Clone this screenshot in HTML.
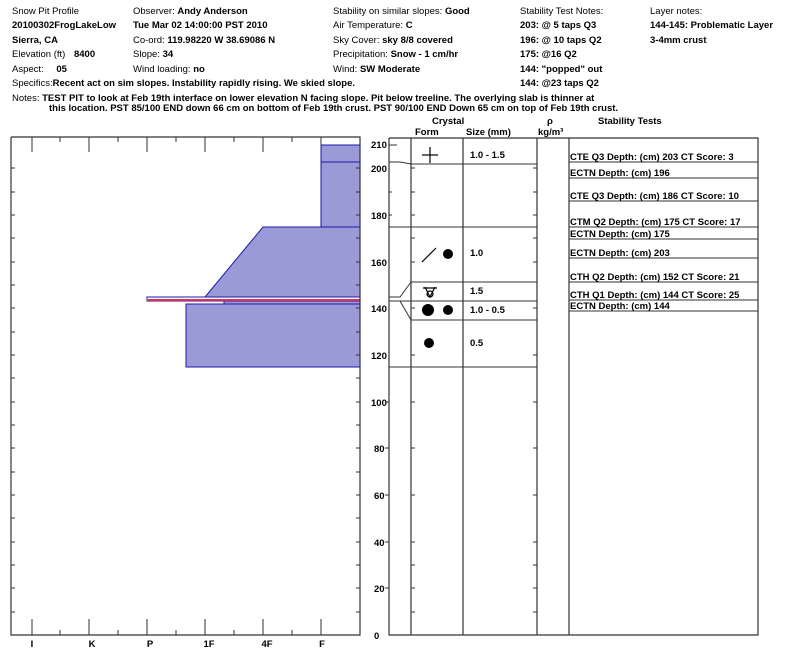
<!DOCTYPE html>
<html><head><meta charset="utf-8"><style>
body{margin:0;width:800px;height:665px;background:#fff;overflow:hidden}
svg{position:absolute;left:0;top:0}
text{font-family:"Liberation Sans",Arial,sans-serif;font-size:9.5px;fill:#000}
.b{font-weight:bold}
</style></head><body>
<svg width="800" height="665" viewBox="0 0 800 665">
<g>
<text x="12" y="14">Snow Pit Profile</text>
<text x="12" y="28" class="b">20100302FrogLakeLow</text>
<text x="12" y="43" class="b">Sierra, CA</text>
<text x="12" y="57">Elevation (ft) <tspan class="b" dx="6">8400</tspan></text>
<text x="12" y="72">Aspect: <tspan class="b" dx="10">05</tspan></text>
<text x="12" y="86">Specifics:<tspan class="b">Recent act on sim slopes. Instability rapidly rising. We skied slope.</tspan></text>
<text x="12" y="101">Notes:  <tspan class="b">TEST PIT to look at Feb 19th interface on lower elevation N facing slope. Pit below treeline. The overlying slab is thinner at</tspan></text>
<text x="49" y="111" class="b">this location. PST 85/100 END down 66 cm on bottom of Feb 19th crust. PST 90/100 END Down 65 cm on top of Feb 19th crust.</text>
<text x="133" y="14">Observer: <tspan class="b">Andy Anderson</tspan></text>
<text x="133" y="28" class="b">Tue Mar 02 14:00:00 PST 2010</text>
<text x="133" y="43">Co-ord: <tspan class="b">119.98220 W 38.69086 N</tspan></text>
<text x="133" y="57">Slope: <tspan class="b">34</tspan></text>
<text x="133" y="72">Wind loading: <tspan class="b">no</tspan></text>
<text x="333" y="14">Stability on similar slopes: <tspan class="b">Good</tspan></text>
<text x="333" y="28">Air Temperature:  <tspan class="b">C</tspan></text>
<text x="333" y="43">Sky Cover: <tspan class="b">sky 8/8 covered</tspan></text>
<text x="333" y="57">Precipitation: <tspan class="b">Snow - 1 cm/hr</tspan></text>
<text x="333" y="72">Wind: <tspan class="b">SW Moderate</tspan></text>
<text x="520" y="14">Stability Test Notes:</text>
<text x="520" y="28" class="b">203: @ 5 taps Q3</text>
<text x="520" y="43" class="b">196: @ 10 taps Q2</text>
<text x="520" y="57" class="b">175: @16 Q2</text>
<text x="520" y="72" class="b">144: "popped" out</text>
<text x="520" y="86" class="b">144: @23 taps Q2</text>
<text x="650" y="14">Layer notes:</text>
<text x="650" y="28" class="b">144-145: Problematic Layer</text>
<text x="650" y="43" class="b">3-4mm crust</text>
</g>
<!-- left chart -->
<g fill="#9a9ad6" stroke="#1a1aaa" stroke-width="1">
<rect x="321" y="145" width="39" height="82"/>
<line x1="321" y1="162" x2="360" y2="162"/>
<polygon points="263,227 360,227 360,297 205,297"/>
<rect x="224" y="301" width="136" height="3"/>
<rect x="186" y="304" width="174" height="63"/>
<rect x="147" y="297" width="213" height="4" fill="#fff"/>
</g>
<rect x="148" y="299" width="212" height="2" fill="#e0304a"/>
<g stroke="#333" stroke-width="1.2" fill="none">
<polyline points="11,137 360,137 360,635 11,635 11,137" />
</g>
<g stroke="#333" stroke-width="1">
<line x1="32" y1="137" x2="32" y2="152"/><line x1="89" y1="137" x2="89" y2="152"/><line x1="147" y1="137" x2="147" y2="152"/><line x1="205" y1="137" x2="205" y2="152"/><line x1="263" y1="137" x2="263" y2="152"/><line x1="321" y1="137" x2="321" y2="145"/>
<line x1="60" y1="137" x2="60" y2="142"/><line x1="118" y1="137" x2="118" y2="142"/><line x1="176" y1="137" x2="176" y2="142"/><line x1="234" y1="137" x2="234" y2="142"/><line x1="292" y1="137" x2="292" y2="142"/>
<line x1="32" y1="619" x2="32" y2="635"/><line x1="89" y1="619" x2="89" y2="635"/><line x1="147" y1="619" x2="147" y2="635"/><line x1="205" y1="619" x2="205" y2="635"/><line x1="263" y1="619" x2="263" y2="635"/><line x1="321" y1="619" x2="321" y2="635"/>
<line x1="60" y1="630" x2="60" y2="635"/><line x1="118" y1="630" x2="118" y2="635"/><line x1="176" y1="630" x2="176" y2="635"/><line x1="234" y1="630" x2="234" y2="635"/><line x1="292" y1="630" x2="292" y2="635"/>
</g>
<g class="b" text-anchor="middle">
<text x="32" y="647" class="b">I</text><text x="92" y="647" class="b">K</text><text x="150" y="647" class="b">P</text><text x="209" y="647" class="b">1F</text><text x="267" y="647" class="b">4F</text><text x="322" y="647" class="b">F</text>
</g>
<!-- y ticks on both sides of left chart -->
<g stroke="#333" id="lt">
<line x1="11" y1="168" x2="15" y2="168"/><line x1="356" y1="168" x2="360" y2="168"/>
<line x1="11" y1="192" x2="15" y2="192"/><line x1="356" y1="192" x2="360" y2="192"/>
<line x1="11" y1="215" x2="15" y2="215"/><line x1="356" y1="215" x2="360" y2="215"/>
<line x1="11" y1="238" x2="15" y2="238"/><line x1="356" y1="238" x2="360" y2="238"/>
<line x1="11" y1="262" x2="15" y2="262"/><line x1="356" y1="262" x2="360" y2="262"/>
<line x1="11" y1="285" x2="15" y2="285"/><line x1="356" y1="285" x2="360" y2="285"/>
<line x1="11" y1="308" x2="15" y2="308"/><line x1="356" y1="308" x2="360" y2="308"/>
<line x1="11" y1="332" x2="15" y2="332"/><line x1="356" y1="332" x2="360" y2="332"/>
<line x1="11" y1="355" x2="15" y2="355"/><line x1="356" y1="355" x2="360" y2="355"/>
<line x1="11" y1="378" x2="15" y2="378"/><line x1="356" y1="378" x2="360" y2="378"/>
<line x1="11" y1="402" x2="15" y2="402"/><line x1="356" y1="402" x2="360" y2="402"/>
<line x1="11" y1="425" x2="15" y2="425"/><line x1="356" y1="425" x2="360" y2="425"/>
<line x1="11" y1="448" x2="15" y2="448"/><line x1="356" y1="448" x2="360" y2="448"/>
<line x1="11" y1="472" x2="15" y2="472"/><line x1="356" y1="472" x2="360" y2="472"/>
<line x1="11" y1="495" x2="15" y2="495"/><line x1="356" y1="495" x2="360" y2="495"/>
<line x1="11" y1="518" x2="15" y2="518"/><line x1="356" y1="518" x2="360" y2="518"/>
<line x1="11" y1="542" x2="15" y2="542"/><line x1="356" y1="542" x2="360" y2="542"/>
<line x1="11" y1="565" x2="15" y2="565"/><line x1="356" y1="565" x2="360" y2="565"/>
<line x1="11" y1="588" x2="15" y2="588"/><line x1="356" y1="588" x2="360" y2="588"/>
<line x1="11" y1="612" x2="15" y2="612"/><line x1="356" y1="612" x2="360" y2="612"/>
</g>
<!-- axis labels -->
<g>
<text x="371" y="148" class="b">210</text>
<text x="371" y="172" class="b">200</text><text x="371" y="219" class="b">180</text><text x="371" y="266" class="b">160</text>
<text x="371" y="312" class="b">140</text><text x="371" y="359" class="b">120</text><text x="371" y="406" class="b">100</text>
<text x="374" y="452" class="b">80</text><text x="374" y="499" class="b">60</text><text x="374" y="546" class="b">40</text>
<text x="374" y="592" class="b">20</text><text x="374" y="639" class="b">0</text>
</g>
<!-- right table -->
<g stroke="#333" stroke-width="1.2" fill="none">
<polyline points="389,138 758,138 758,635 389,635 389,138"/>
<line x1="411" y1="138" x2="411" y2="635"/>
<line x1="463" y1="138" x2="463" y2="635"/>
<line x1="537" y1="138" x2="537" y2="635"/>
<line x1="569" y1="138" x2="569" y2="635"/>
</g>
<g stroke="#333" stroke-width="1">
<line x1="411" y1="164" x2="537" y2="164"/>
<line x1="389" y1="227" x2="537" y2="227"/>
<line x1="411" y1="282" x2="537" y2="282"/>
<line x1="389" y1="301" x2="537" y2="301"/>
<line x1="411" y1="320" x2="537" y2="320"/>
<line x1="389" y1="367" x2="537" y2="367"/>
<line x1="569" y1="162" x2="758" y2="162"/>
<line x1="569" y1="178" x2="758" y2="178"/>
<line x1="569" y1="201" x2="758" y2="201"/>
<line x1="569" y1="227" x2="758" y2="227"/>
<line x1="569" y1="239" x2="758" y2="239"/>
<line x1="569" y1="258" x2="758" y2="258"/>
<line x1="569" y1="282" x2="758" y2="282"/>
<line x1="569" y1="300" x2="758" y2="300"/>
<line x1="569" y1="311" x2="758" y2="311"/>
<line x1="389" y1="145" x2="397" y2="145"/>
<polyline points="389,162 400,162 411,164" fill="none"/>
<polyline points="389,297 400,297 411,282" fill="none"/>
<polyline points="389,301 400,301 411,320" fill="none"/>
<line x1="411" y1="168" x2="415" y2="168"/><line x1="533" y1="168" x2="537" y2="168"/>
</g>
<g stroke="#333" stroke-width="1" id="rt">
<line x1="389" y1="192" x2="392" y2="192"/><line x1="411" y1="192" x2="415" y2="192"/><line x1="533" y1="192" x2="537" y2="192"/>
<line x1="389" y1="215" x2="392" y2="215"/><line x1="411" y1="215" x2="415" y2="215"/><line x1="533" y1="215" x2="537" y2="215"/>
<line x1="411" y1="238" x2="415" y2="238"/><line x1="533" y1="238" x2="537" y2="238"/>
<line x1="411" y1="262" x2="415" y2="262"/><line x1="533" y1="262" x2="537" y2="262"/>
<line x1="411" y1="308" x2="415" y2="308"/><line x1="533" y1="308" x2="537" y2="308"/>
<line x1="411" y1="355" x2="415" y2="355"/><line x1="533" y1="355" x2="537" y2="355"/>
<line x1="411" y1="402" x2="415" y2="402"/><line x1="533" y1="402" x2="537" y2="402"/><line x1="385" y1="402" x2="389" y2="402"/>
<line x1="411" y1="448" x2="415" y2="448"/><line x1="533" y1="448" x2="537" y2="448"/><line x1="385" y1="448" x2="389" y2="448"/>
<line x1="411" y1="495" x2="415" y2="495"/><line x1="533" y1="495" x2="537" y2="495"/><line x1="385" y1="495" x2="389" y2="495"/>
<line x1="411" y1="542" x2="415" y2="542"/><line x1="533" y1="542" x2="537" y2="542"/><line x1="385" y1="542" x2="389" y2="542"/>
<line x1="411" y1="565" x2="415" y2="565"/><line x1="533" y1="565" x2="537" y2="565"/>
<line x1="411" y1="588" x2="415" y2="588"/><line x1="533" y1="588" x2="537" y2="588"/><line x1="385" y1="588" x2="389" y2="588"/>
<line x1="411" y1="612" x2="415" y2="612"/><line x1="533" y1="612" x2="537" y2="612"/>
</g>
<g class="b">
<text x="432" y="124" class="b">Crystal</text>
<text x="415" y="135" class="b">Form</text>
<text x="466" y="135" class="b">Size (mm)</text>
<text x="547" y="124" class="b">ρ</text>
<text x="538" y="135" class="b">kg/m³</text>
<text x="598" y="124" class="b">Stability Tests</text>
<text x="470" y="158" class="b">1.0 -  1.5</text>
<text x="470" y="256" class="b">1.0</text>
<text x="470" y="294" class="b">1.5</text>
<text x="470" y="313" class="b">1.0 -  0.5</text>
<text x="470" y="346" class="b">0.5</text>
<text x="570" y="160" class="b">CTE Q3 Depth: (cm) 203 CT Score: 3</text>
<text x="570" y="176" class="b">ECTN   Depth: (cm) 196</text>
<text x="570" y="199" class="b">CTE Q3 Depth: (cm) 186 CT Score: 10</text>
<text x="570" y="225" class="b">CTM Q2 Depth: (cm) 175 CT Score: 17</text>
<text x="570" y="237" class="b">ECTN   Depth: (cm) 175</text>
<text x="570" y="256" class="b">ECTN   Depth: (cm) 203</text>
<text x="570" y="280" class="b">CTH Q2 Depth: (cm) 152 CT Score: 21</text>
<text x="570" y="298" class="b">CTH Q1 Depth: (cm) 144 CT Score: 25</text>
<text x="570" y="309" class="b">ECTN   Depth: (cm) 144</text>
</g>
<!-- crystal forms -->
<g stroke="#000" stroke-width="1.2" fill="none">
<line x1="422" y1="155" x2="438" y2="155"/><line x1="430" y1="147" x2="430" y2="163"/>
<line x1="422" y1="262" x2="436" y2="248"/>
<path d="M423,288 L437,288 M425,287 L430,297 L435,287"/>
<circle cx="430" cy="294" r="3"/>
</g>
<g fill="#000">
<circle cx="448" cy="254" r="5"/>
<circle cx="428" cy="310" r="6"/><circle cx="448" cy="310" r="5"/>
<circle cx="429" cy="343" r="5"/>
</g>
</svg>
</body></html>
